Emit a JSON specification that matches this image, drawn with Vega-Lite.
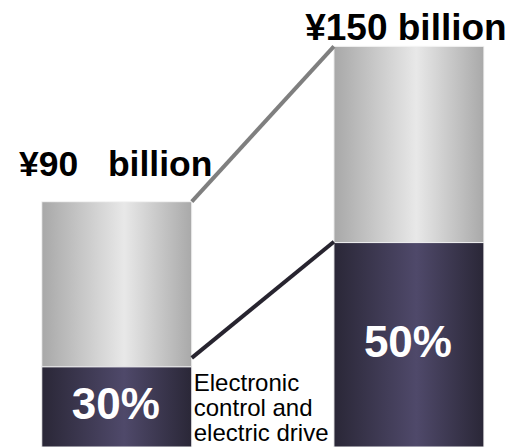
{
  "$schema": "https://vega.github.io/schema/vega-lite/v6.json",
  "width": 510,
  "height": 447,
  "padding": 0,
  "autosize": {"type": "none"},
  "config": {"view": {"stroke": null}, "font": "Liberation Sans"},
  "datasets": {
    "bars": [
      {"idx": 0, "amount": "¥90\u00a0\u00a0\u00a0billion", "pct": "30%", "dark": 29.4, "total": 90},
      {"idx": 1, "amount": "¥150 billion", "pct": "50%", "dark": 75, "total": 147}
    ],
    "links": [
      {"from": 0, "to": 1, "y1": 90, "y2": 147, "kind": "total"},
      {"from": 0, "to": 1, "y1": 32.7, "y2": 75.3, "kind": "share"}
    ],
    "note": [
      {"idx": 0, "y": 27.5, "text": "Electronic\ncontrol and\nelectric drive"}
    ]
  },
  "encoding": {
    "x": {"type": "quantitative", "scale": {"domain": [-0.3826, 1.3289], "nice": false, "zero": false}, "axis": null},
    "y": {"type": "quantitative", "scale": {"domain": [0, 164], "nice": false}, "axis": null}
  },
  "layer": [
    {
      "data": {"name": "bars"},
      "mark": {"type": "bar", "width": 150, "stroke": "#f4f4f4", "strokeWidth": 1,
        "fill": {"gradient": "linear", "x1": 0, "x2": 1, "y1": 0, "y2": 0,
          "stops": [{"offset": 0, "color": "#a8a8a8"}, {"offset": 0.55, "color": "#e8e8e8"}, {"offset": 1, "color": "#a9a9a9"}]}},
      "encoding": {"x": {"field": "idx"}, "y": {"field": "dark"}, "y2": {"field": "total"}}
    },
    {
      "data": {"name": "bars"},
      "mark": {"type": "bar", "width": 150, "stroke": "#f4f4f4", "strokeWidth": 1,
        "fill": {"gradient": "linear", "x1": 0, "x2": 1, "y1": 0, "y2": 0,
          "stops": [{"offset": 0, "color": "#2a2737"}, {"offset": 0.55, "color": "#4f496a"}, {"offset": 1, "color": "#2a2737"}]}},
      "encoding": {"x": {"field": "idx"}, "y": {"field": "dark"}}
    },
    {
      "data": {"name": "links"},
      "mark": {"type": "rule", "strokeWidth": 4, "xOffset": 75, "x2Offset": -75},
      "encoding": {
        "x": {"field": "from"}, "x2": {"field": "to"},
        "y": {"field": "y1"}, "y2": {"field": "y2"},
        "color": {"field": "kind", "type": "nominal", "scale": {"domain": ["total", "share"], "range": ["#7f7f7f", "#27242f"]}, "legend": null}
      }
    },
    {
      "data": {"name": "bars"},
      "transform": [{"filter": "datum.idx == 0"}],
      "mark": {"type": "text", "fontSize": 35.5, "fontWeight": "bold", "color": "#000", "baseline": "alphabetic", "dy": -26, "dx": -1},
      "encoding": {"x": {"field": "idx"}, "y": {"field": "total"}, "text": {"field": "amount"}}
    },
    {
      "data": {"name": "bars"},
      "transform": [{"filter": "datum.idx == 1"}],
      "mark": {"type": "text", "fontSize": 37, "fontWeight": "bold", "color": "#000", "baseline": "alphabetic", "dy": -6, "dx": -3},
      "encoding": {"x": {"field": "idx"}, "y": {"field": "total"}, "text": {"field": "amount"}}
    },
    {
      "data": {"name": "bars"},
      "transform": [{"calculate": "datum.dark / 2", "as": "mid"}],
      "mark": {"type": "text", "fontSize": 44, "fontWeight": "bold", "color": "#ffffff", "baseline": "middle", "dy": -1, "dx": -1},
      "encoding": {"x": {"field": "idx"}, "y": {"field": "mid"}, "text": {"field": "pct"}}
    },
    {
      "data": {"name": "note"},
      "mark": {"type": "text", "fontSize": 24, "color": "#000", "align": "left", "baseline": "top", "lineBreak": "\n", "lineHeight": 25, "dx": 77},
      "encoding": {"x": {"field": "idx"}, "y": {"field": "y"}, "text": {"field": "text"}}
    }
  ]
}
